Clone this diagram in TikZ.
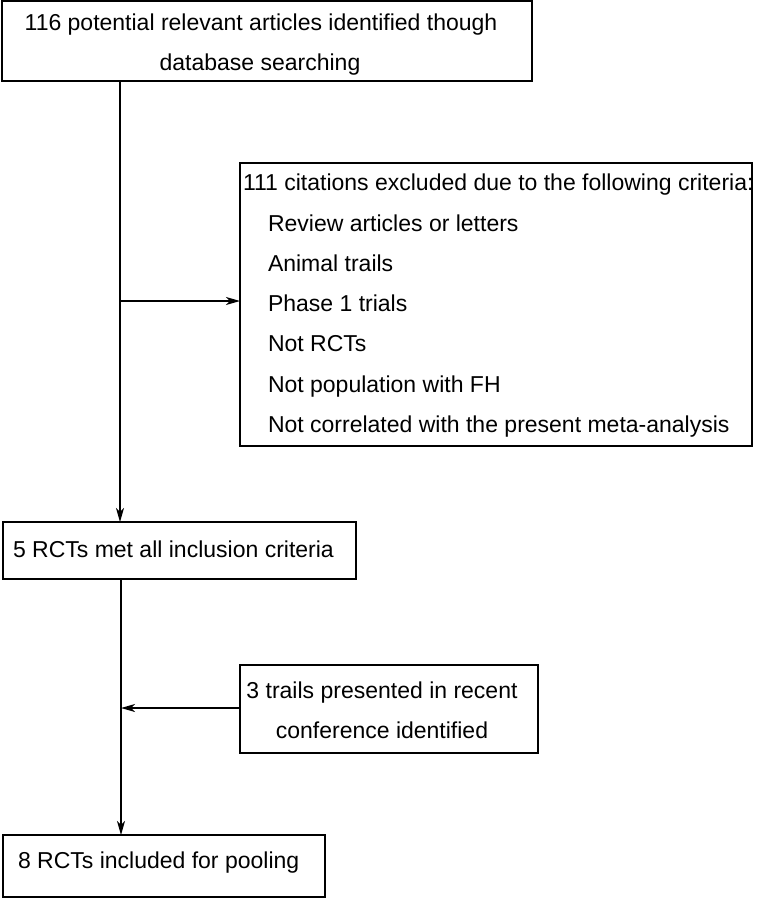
\documentclass[tikz,border=0pt]{standalone}
\usepackage{fontspec}
\setmainfont{Liberation Sans}
\usetikzlibrary{arrows.meta}
\begin{document}
\begin{tikzpicture}[x=1pt,y=-1pt,
  box/.style={draw,line width=1.7pt,inner sep=0pt,outer sep=0pt,anchor=north west},
  txt/.style={inner sep=0pt,outer sep=0pt,font=\fontsize{23}{27}\selectfont},
  conn/.style={line width=1.4pt,-{Stealth[length=14pt,width=8pt,inset=4pt]}}]
\useasboundingbox (0,0) rectangle (760,898);
% boxes
\node[box,minimum width=530pt,minimum height=80pt] (b1) at (2,1) {};
\node[box,minimum width=512pt,minimum height=283pt] (ex) at (240,163) {};
\node[box,minimum width=353pt,minimum height=57pt] (b2) at (3,522) {};
\node[box,minimum width=298pt,minimum height=88pt] (tr) at (240,665) {};
\node[box,minimum width=322pt,minimum height=62pt] (b3) at (3,835) {};
% texts
\node[txt,anchor=base] (t1a) at (261,30) {116 potential relevant articles identified though};
\node[txt,anchor=base] (t1b) at (260,70.5) {database searching};
\node[txt,anchor=base west] (e0) at (243,190.7) {111 citations excluded due to the following criteria:};
\node[txt,anchor=base west] (e1) at (268,231) {Review articles or letters};
\node[txt,anchor=base west] (e2) at (268,271.3) {Animal trails};
\node[txt,anchor=base west] (e3) at (268,311.6) {Phase 1 trials};
\node[txt,anchor=base west] (e4) at (268,351.9) {Not RCTs};
\node[txt,anchor=base west] (e5) at (268,392.2) {Not population with FH};
\node[txt,anchor=base west] (e6) at (268,432.5) {Not correlated with the present meta-analysis};
\node[txt,anchor=base west] (t2) at (13,557) {5 RCTs met all inclusion criteria};
\node[txt,anchor=base] (r1) at (382,698) {3 trails presented in recent};
\node[txt,anchor=base] (r2) at (382,738) {conference identified};
\node[txt,anchor=base west] (t3) at (18,868) {8 RCTs included for pooling};
% connectors
\coordinate (j1) at (120,301);
\coordinate (j2) at (121,708);
\draw[conn] (b1.south -| j1) -- (b2.north -| j1);
\draw[conn] (j1) -- (ex.west |- j1);
\draw[conn] (b2.south -| j2) -- (b3.north -| j2);
\draw[conn] (tr.west |- j2) -- (j2);
\end{tikzpicture}
\end{document}
